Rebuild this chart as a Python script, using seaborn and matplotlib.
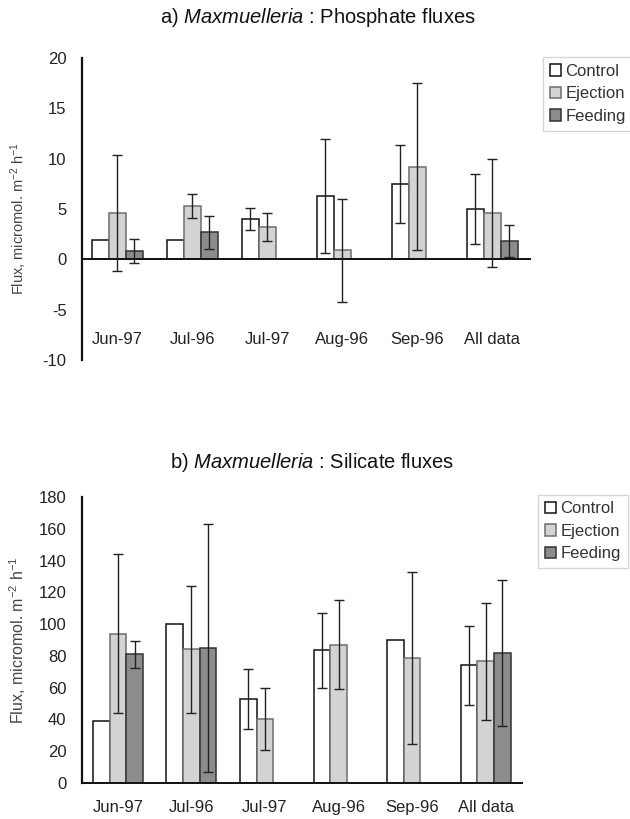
import numpy as np
import pandas as pd
import matplotlib
matplotlib.use("Agg")
import matplotlib.pyplot as plt
from matplotlib.patches import Patch
import seaborn as sns

nan = np.nan
months = ["Jun-97", "Jul-96", "Jul-97", "Aug-96", "Sep-96", "All data"]
treatments = ["Control", "Ejection", "Feeding"]

# Phosphate fluxes (panel a)
phos_control = [1.9, 1.9, 4.0, 6.3, 7.5, 5.0]
phos_ejection = [4.6, 5.3, 3.2, 0.9, 9.2, 4.6]
phos_feeding = [0.8, 2.7, nan, nan, nan, 1.8]
phos_control_sd = [nan, nan, 1.1, 5.7, 3.9, 3.5]
phos_ejection_sd = [5.8, 1.2, 1.4, 5.1, 8.3, 5.4]
phos_feeding_sd = [1.2, 1.65, nan, nan, nan, 1.6]

# Silicate fluxes (panel b)
sil_control = [39, 100, 53, 83.5, 90, 74]
sil_ejection = [94, 84, 40, 87, 78.5, 76.5]
sil_feeding = [81, 85, nan, nan, nan, 82]
sil_control_sd = [nan, nan, 19, 23.5, nan, 25]
sil_ejection_sd = [50, 40, 19.5, 28, 54, 37]
sil_feeding_sd = [8.5, 78, nan, nan, nan, 46]

sns.set_style("white")
plt.rcParams["font.family"] = ["Liberation Sans", "DejaVu Sans"]
plt.rcParams["mathtext.fontset"] = "custom"
plt.rcParams["mathtext.rm"] = "Liberation Sans"
plt.rcParams["mathtext.it"] = "Liberation Sans:italic"
plt.rcParams["axes.unicode_minus"] = False

fills = {"Control": "#ffffff", "Ejection": "#d3d3d3", "Feeding": "#8c8c8c"}
edges = {"Control": "#111111", "Ejection": "#6e6e6e", "Feeding": "#333333"}


def draw(ax, vals, sds):
    rows = []
    for t in treatments:
        for m, v in zip(months, vals[t]):
            rows.append({"Month": m, "Treatment": t, "Flux": v})
    df = pd.DataFrame(rows)
    sns.barplot(data=df, x="Month", y="Flux", hue="Treatment", order=months,
                hue_order=treatments, palette=fills, width=0.68, errorbar=None,
                saturation=1, linewidth=1.1, edgecolor="black", legend=False, ax=ax)
    for cont, t in zip(ax.containers, treatments):
        for bar in cont:
            bar.set_edgecolor(edges[t])
            cx = bar.get_x() + bar.get_width() / 2
            i = int(round(cx))
            sd = sds[t][i]
            if not np.isnan(sd):
                ax.errorbar(cx, vals[t][i], yerr=sd, fmt="none", ecolor="#222222",
                            elinewidth=1.0, capsize=3.5, capthick=1.0, zorder=5)
    for s in ["top", "right"]:
        ax.spines[s].set_visible(False)
    ax.spines["left"].set_linewidth(1.6)
    ax.spines["left"].set_color("#111111")
    ax.spines["bottom"].set_linewidth(1.4)
    ax.spines["bottom"].set_color("#111111")
    ax.set_xlabel("")
    ax.tick_params(axis="y", direction="in", length=5, width=1.3, color="#111111",
                   labelsize=12, labelcolor="#222222", pad=11)
    ax.tick_params(axis="x", length=0, labelsize=12, labelcolor="#222222")
    ax.set_facecolor("white")


fig = plt.figure(figsize=(6.3, 8.19), dpi=100)
fig.patch.set_facecolor("white")

# Panel a
axa = fig.add_axes([0.130, 0.5604, 0.711, 0.3688])
draw(axa,
     {"Control": phos_control, "Ejection": phos_ejection, "Feeding": phos_feeding},
     {"Control": phos_control_sd, "Ejection": phos_ejection_sd, "Feeding": phos_feeding_sd})
axa.spines["bottom"].set_position(("data", 0))
axa.set_ylim(-10, 20)
axa.set_yticks(range(-10, 21, 5))
axa.set_xlim(-0.47, 5.5)
axa.tick_params(axis="x", pad=52)
axa.set_ylabel("Flux, micromol. m$^{-2}$ h$^{-1}$", fontsize=10.5, color="#444444")
axa.yaxis.set_label_coords(-0.118, 0.47)

# Panel b
axb = fig.add_axes([0.130, 0.044, 0.698, 0.3492])
draw(axb,
     {"Control": sil_control, "Ejection": sil_ejection, "Feeding": sil_feeding},
     {"Control": sil_control_sd, "Ejection": sil_ejection_sd, "Feeding": sil_feeding_sd})
axb.set_ylim(0, 180)
axb.set_yticks(range(0, 181, 20))
axb.set_xlim(-0.49, 5.49)
axb.tick_params(axis="x", pad=12)
axb.set_ylabel("Flux, micromol. m$^{-2}$ h$^{-1}$", fontsize=11.5, color="#444444")
axb.yaxis.set_label_coords(-0.122, 0.5)

fig.text(0.505, 0.979, r"a) $\mathit{Maxmuelleria}$ : Phosphate fluxes",
         ha="center", va="center", fontsize=14.5, color="#111111")
fig.text(0.495, 0.435, r"b) $\mathit{Maxmuelleria}$ : Silicate fluxes",
         ha="center", va="center", fontsize=14.5, color="#111111")

handles = [Patch(facecolor=fills[t], edgecolor=edges[t], linewidth=1.1) for t in treatments]
for ax, anchor in [(axa, (0.862, 0.930)), (axb, (0.854, 0.396))]:
    leg = ax.legend(handles, treatments, loc="upper left", bbox_to_anchor=anchor,
                    bbox_transform=fig.transFigure, frameon=True, fancybox=False,
                    edgecolor="#cccccc", fontsize=12, handlelength=0.7,
                    handleheight=0.7, handletextpad=0.25, labelspacing=0.45,
                    borderpad=0.4, borderaxespad=0)
    for txt in leg.get_texts():
        txt.set_color("#333333")

fig.savefig("out.png", dpi=100, facecolor="white")
